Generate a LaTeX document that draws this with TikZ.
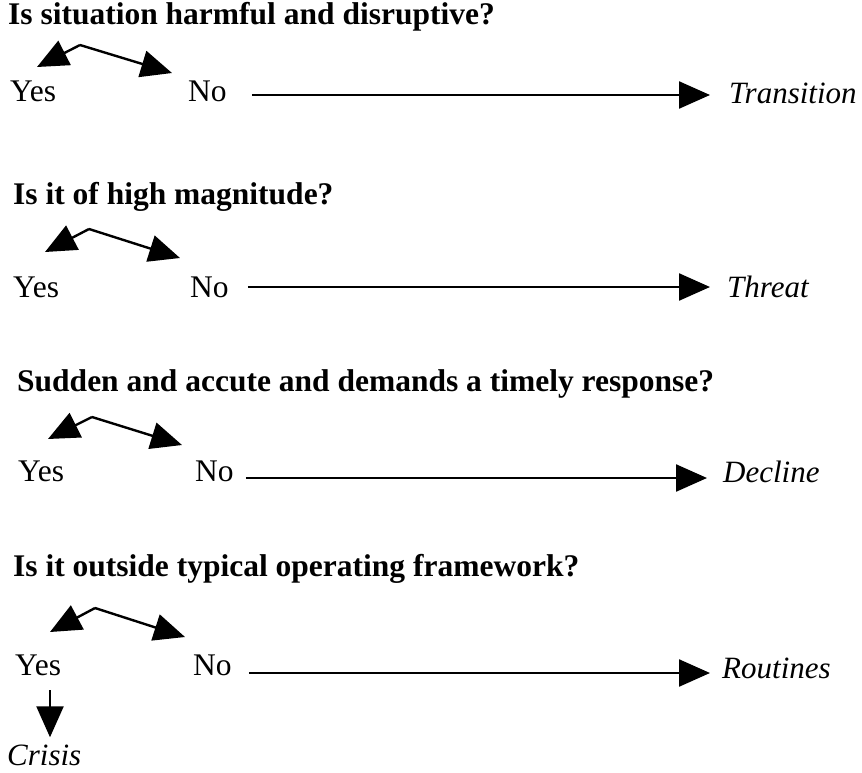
\documentclass[tikz,border=0pt]{standalone}
\usepackage{fontspec}
\setmainfont{Liberation Serif}
\usetikzlibrary{arrows.meta,calc}
\begin{document}
\begin{tikzpicture}[x=1pt,y=-1pt,
  txt/.style={anchor=base west,inner sep=0pt,font=\fontsize{31.5pt}{36pt}\selectfont},
  ttl/.style={txt,font=\fontsize{31.5pt}{36pt}\selectfont\bfseries},
  outc/.style={txt,font=\fontsize{31pt}{36pt}\selectfont\itshape},
  arr/.style={line width=2.4pt,-{Triangle[length=31pt,width=27pt]}}]
\useasboundingbox (0,0) rectangle (862,772);
% group 1
\node[ttl] (q1) at (8,24) {Is situation harmful and disruptive?};
\node[txt] (y1) at (10,101) {Yes};
\node[txt] (n1) at (188,101) {No};
\node[outc] (o1) at (729,103) {Transition};
\coordinate (f1) at (80,45);
\coordinate (l1) at (37,67);
\coordinate (r1) at (172,73);
\draw[arr] (f1) -- (l1);
\draw[arr] (f1) -- (r1);
\draw[arr] ($(n1.base east)+(25,-6)$) -- ($(n1.base east -| o1.west)+(-19,-6)$);
% group 2
\node[ttl] (q2) at (13,204) {Is it of high magnitude?};
\node[txt] (y2) at (13,297) {Yes};
\node[txt] (n2) at (190,297) {No};
\node[outc] (o2) at (727,297) {Threat};
\coordinate (f2) at (89,229);
\coordinate (l2) at (45,252);
\coordinate (r2) at (180,258);
\draw[arr] (f2) -- (l2);
\draw[arr] (f2) -- (r2);
\draw[arr] ($(n2.base east)+(19,-10)$) -- ($(n2.base east -| o2.west)+(-17,-10)$);
% group 3
\node[ttl] (q3) at (17,391) {Sudden and accute and demands a timely response?};
\node[txt] (y3) at (18,481) {Yes};
\node[txt] (n3) at (195,481) {No};
\node[outc] (o3) at (723,482) {Decline};
\coordinate (f3) at (92,417);
\coordinate (l3) at (48,439);
\coordinate (r3) at (182,445);
\draw[arr] (f3) -- (l3);
\draw[arr] (f3) -- (r3);
\draw[arr] ($(n3.base east)+(12,-3)$) -- ($(n3.base east -| o3.west)+(-16,-3)$);
% group 4
\node[ttl] (q4) at (13,576) {Is it outside typical operating framework?};
\node[txt] (y4) at (15,675) {Yes};
\node[txt] (n4) at (193,675) {No};
\node[outc] (o4) at (722,678) {Routines};
\node[outc] (c4) at (7,765) {Crisis};
\coordinate (f4) at (95,608);
\coordinate (l4) at (50,632);
\coordinate (r4) at (185,637);
\draw[arr] (f4) -- (l4);
\draw[arr] (f4) -- (r4);
\draw[arr] ($(n4.base east)+(17,-2)$) -- ($(n4.base east -| o4.west)+(-12,-2)$);
\coordinate (cs) at (50,690);
\draw[arr] (cs) -- ($(cs |- c4.north)+(0,-7)$);
\end{tikzpicture}
\end{document}
